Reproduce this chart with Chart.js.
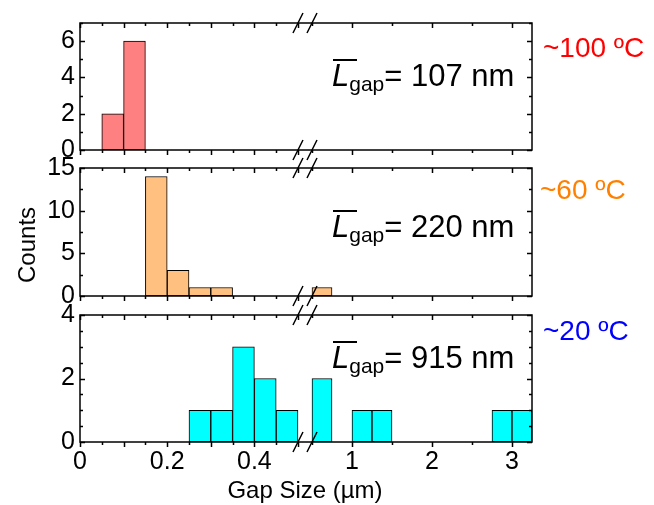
<!DOCTYPE html>
<html>
<head>
<meta charset="utf-8">
<script src="https://cdn.jsdelivr.net/npm/chart.js@4/dist/chart.umd.min.js"></script>
<style>
  body { margin: 0; background: #fff; }
  #wrap { position: relative; width: 654px; height: 505px; font-family: "Liberation Sans", Arial, sans-serif; color: #000; }
  canvas { position: absolute; left: 0; }
  .t { position: absolute; white-space: nowrap; line-height: 1; }
  .temp { font-size: 28px; }
  .ann { font-size: 31px; }
  .ann .L { position: relative; font-style: italic; }
  .ann .L::before { content: ""; position: absolute; left: 1px; top: 1px; width: 24px; border-top: 2px solid #000; }
  .ann .sub { font-size: 21px; vertical-align: -5px; }
</style>
</head>
<body>
<div id="wrap">
  <canvas id="c100" width="654" height="170" style="top:0px"></canvas>
  <canvas id="c60" width="654" height="175" style="top:145px"></canvas>
  <canvas id="c20" width="654" height="215" style="top:290px"></canvas>

  <div class="t temp" style="left:543px;top:34px;color:#ff0000">~100 ºC</div>
  <div class="t temp" style="left:540px;top:176px;color:#ff8000">~60 ºC</div>
  <div class="t temp" style="left:543px;top:317px;color:#0000ff">~20 ºC</div>

  <div class="t ann" style="left:332px;top:60px"><span class="L">L</span><span class="sub">gap</span>= 107 nm</div>
  <div class="t ann" style="left:332px;top:211px"><span class="L">L</span><span class="sub">gap</span>= 220 nm</div>
  <div class="t ann" style="left:332px;top:342px"><span class="L">L</span><span class="sub">gap</span>= 915 nm</div>

  <div class="t" style="left:27px;top:245px;font-size:24px;transform:translate(-50%,-50%) rotate(-90deg)">Counts</div>
  <div class="t" style="left:305px;top:490px;font-size:24px;transform:translate(-50%,-50%)">Gap Size (µm)</div>
</div>
<script>
// bin centres, left part of the broken axis (0 - 0.5 um, 0.05 wide)
const leftBins = [0.025, 0.075, 0.125, 0.175, 0.225, 0.275, 0.325, 0.375, 0.425, 0.475];
// bin centres, right part (0.5 - 3.25 um, 0.25 wide)
const rightBins = [0.625, 0.875, 1.125, 1.375, 1.625, 1.875, 2.125, 2.375, 2.625, 2.875, 3.125];

const counts100Left = [0, 2, 6, 0, 0, 0, 0, 0, 0, 0];
const counts100Right = [0, 0, 0, 0, 0, 0, 0, 0, 0, 0, 0];
const counts60Left = [0, 0, 0, 14, 3, 1, 1, 0, 0, 0];
const counts60Right = [1, 0, 0, 0, 0, 0, 0, 0, 0, 0, 0];
const counts20Left = [0, 0, 0, 0, 0, 1, 1, 3, 2, 1];
const counts20Right = [2, 0, 1, 1, 0, 0, 0, 0, 0, 1, 1];

const leftTicks = [0, 0.05, 0.1, 0.15, 0.2, 0.25, 0.3, 0.35, 0.4, 0.45, 0.5];
const leftMajor = [0, 0.1, 0.2, 0.3, 0.4, 0.5];
const leftLabels = [0, 0.2, 0.4];
const rightTicks = [0.5, 1, 1.5, 2, 2.5, 3];
const rightMajor = [1, 2, 3];
const rightLabels = [1, 2, 3];

const yTicks100 = [0, 1, 2, 3, 4, 5, 6, 7];
const yLabels100 = [0, 2, 4, 6];
const yTicks60 = [0, 2.5, 5, 7.5, 10, 12.5, 15];
const yLabels60 = [0, 5, 10, 15];
const yTicks20 = [0, 0.5, 1, 1.5, 2, 2.5, 3, 3.5, 4];
const yLabels20 = [0, 2, 4];

Chart.defaults.font.family = '"Liberation Sans", Arial, sans-serif';
Chart.defaults.font.size = 25;
Chart.defaults.color = "#000";

// frame, inward/outward tick marks and the axis-break slashes
const frameTicks = {
  id: "frameTicks",
  afterDatasetsDraw(chart, args, opts) {
    const { ctx, chartArea: a, scales } = chart;
    ctx.save();
    ctx.strokeStyle = "#000";
    ctx.lineWidth = 1.5;
    ctx.strokeRect(a.left, a.top, a.right - a.left, a.bottom - a.top);
    ctx.beginPath();
    [["xl", leftMajor], ["xr", rightMajor]].forEach(([id, major]) => {
      const s = scales[id];
      s.ticks.forEach((t) => {
        const x = Math.round(s.getPixelForValue(t.value)) + 0.5;
        const len = major.includes(t.value) ? 5 : 3;
        ctx.moveTo(x, a.top); ctx.lineTo(x, a.top + len);
        ctx.moveTo(x, a.bottom); ctx.lineTo(x, a.bottom + len);
      });
    });
    const sy = scales.y;
    sy.ticks.forEach((t) => {
      const y = Math.round(sy.getPixelForValue(t.value)) + 0.5;
      const len = opts.yMajor.includes(t.value) ? 5 : 3;
      ctx.moveTo(a.left, y); ctx.lineTo(a.left + len, y);
      ctx.moveTo(a.right, y); ctx.lineTo(a.right - len, y);
    });
    ctx.stroke();
    // break marks
    const b1 = scales.xl.getPixelForValue(0.5);
    const b2 = scales.xr.getPixelForValue(0.5);
    ctx.beginPath();
    [b1, b2].forEach((bx) => {
      [a.top, a.bottom].forEach((by) => {
        ctx.moveTo(bx - 5, by + 10);
        ctx.lineTo(bx + 5, by - 10);
      });
    });
    ctx.stroke();
    ctx.restore();
  },
};

function fixedBox(w, h) {
  return (s) => {
    if (w !== null) s.width = w;
    if (h !== null) s.height = h;
    s.paddingTop = 0; s.paddingBottom = 0; s.paddingLeft = 0; s.paddingRight = 0;
  };
}

function setTicks(values) {
  return (s) => { s.ticks = values.map((v) => ({ value: v })); };
}

function labelIf(list) {
  return (v) => (list.includes(v) ? String(v) : "");
}

function makePanel(canvasId, padTop, axisH, leftCounts, rightCounts, fill, yMax, yTicks, yLabels, showX) {
  const barStyle = {
    backgroundColor: fill,
    borderColor: "#000",
    borderWidth: 1,
    borderSkipped: false,
    barPercentage: 1,
    categoryPercentage: 1,
    grouped: false,
  };
  const noGrid = { display: false, drawTicks: false, offset: false };
  new Chart(document.getElementById(canvasId), {
    type: "bar",
    data: {
      datasets: [
        { ...barStyle, xAxisID: "xl", yAxisID: "y", data: leftBins.map((x, i) => ({ x, y: leftCounts[i] })) },
        { ...barStyle, xAxisID: "xr", yAxisID: "y", data: rightBins.map((x, i) => ({ x, y: rightCounts[i] })) },
      ],
    },
    options: {
      responsive: false,
      animation: false,
      devicePixelRatio: 1,
      layout: { padding: { left: 0, right: 122, top: padTop, bottom: 0 } },
      plugins: { legend: { display: false }, tooltip: { enabled: false }, frameTicks: { yMajor: yLabels } },
      scales: {
        xl: {
          type: "linear", position: "bottom", stack: "x", stackWeight: 225, offset: false,
          min: 0, max: 0.5161,
          grid: noGrid, border: { display: false },
          afterBuildTicks: setTicks(leftTicks), afterFit: fixedBox(null, axisH),
          ticks: { display: showX, autoSkip: false, maxRotation: 0, padding: 5, callback: labelIf(leftLabels) },
        },
        xr: {
          type: "linear", position: "bottom", stack: "x", stackWeight: 227, offset: false,
          min: 0.4125, max: 3.25,
          grid: noGrid, border: { display: false },
          afterBuildTicks: setTicks(rightTicks), afterFit: fixedBox(null, axisH),
          ticks: { display: showX, autoSkip: false, maxRotation: 0, padding: 5, callback: labelIf(rightLabels) },
        },
        y: {
          type: "linear", position: "left", min: 0, max: yMax,
          grid: noGrid, border: { display: false },
          afterBuildTicks: setTicks(yTicks), afterFit: fixedBox(80, null),
          ticks: { autoSkip: false, padding: 5, callback: labelIf(yLabels) },
        },
      },
    },
    plugins: [frameTicks],
  });
}

makePanel("c100", 23, 20, counts100Left, counts100Right, "#ff8080", 7, yTicks100, yLabels100, false);
makePanel("c60", 23, 24, counts60Left, counts60Right, "#ffc080", 15, yTicks60, yLabels60, false);
makePanel("c20", 25, 63, counts20Left, counts20Right, "#00ffff", 4, yTicks20, yLabels20, true);
</script>
</body>
</html>
